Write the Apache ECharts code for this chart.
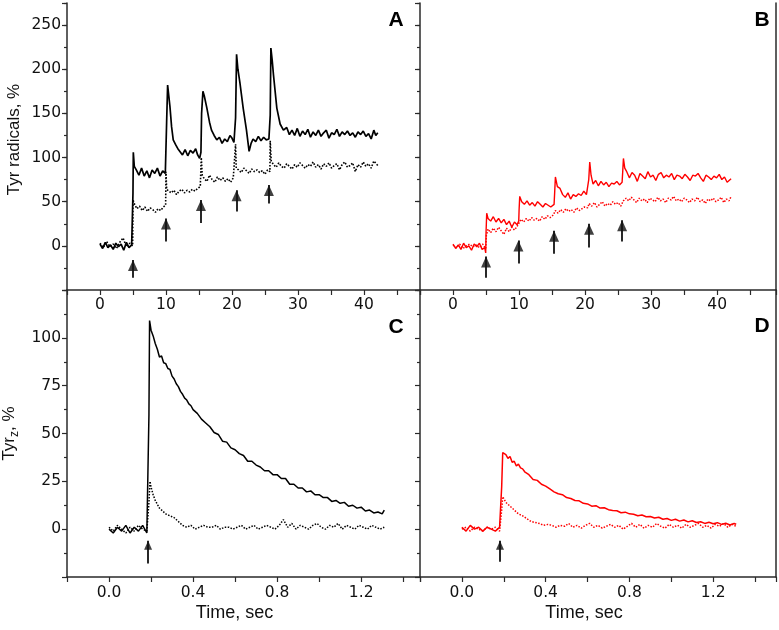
<!DOCTYPE html>
<html><head><meta charset="utf-8">
<script src="https://cdn.jsdelivr.net/npm/echarts@6/dist/echarts.min.js"></script>
<style>html,body{margin:0;padding:0;background:#fff}#c{width:779px;height:630px}</style>
</head><body><div id="c"></div>
<script>
// ---- tick labels ----
const xTicksTop = [0, 10, 20, 30, 40];
const yTicksTop = [0, 50, 100, 150, 200, 250];
const xTicksBottom = [0, 0.4, 0.8, 1.2];
const yTicksBottom = [0, 25, 50, 75, 100];
const panelLetters = ['A', 'B', 'C', 'D'];

// ---- Panel A (black, multi-flash, time in s) ----
const panelA_solid = [[0,2],[0.4,-3],[0.8,4],[1.2,-2],[1.6,1],[2,-4],[2.4,3],[2.8,-1],[3.2,2],[3.6,-5],[4,4],[4.4,-2],[4.8,1],[4.95,-1],
[5.0,60],[5.05,106],[5.2,90],[5.5,86],[5.9,80],[6.3,88],[6.7,79],[7.1,85],[7.5,77],[7.9,86],[8.3,82],[8.7,88],[9.1,79],[9.5,85],[9.9,82],
[10.0,84],[10.1,140],[10.25,182],[10.6,158],[10.85,135],[11.1,120],[11.5,114],[11.8,110],[12.1,108],[12.5,103],[12.9,109],[13.3,102],[13.7,108],[14.1,105],[14.5,110],[14.8,103],[15.1,99],[15.3,106],
[15.4,150],[15.6,175],[15.8,170],[16.2,156],[16.6,140],[16.9,131],[17.3,125],[17.7,120],[18.1,123],[18.5,116],[18.9,121],[19.3,118],[19.7,125],[20.0,122],[20.3,117],[20.5,116],
[20.55,145],[20.7,217],[20.9,200],[21.2,185],[21.7,156],[22.2,131],[22.6,107],[22.9,116],[23.2,121],[23.6,118],[24.0,124],[24.4,119],[24.8,123],[25.2,120],[25.6,121],[25.75,119],
[25.8,148],[25.9,224],[26.1,210],[26.3,193],[26.8,156],[27.3,138],[27.8,131],[28.3,134],[28.7,126],[29.1,131],[29.5,125],[29.9,133],[30.3,124],[30.7,130],[31.1,126],[31.5,132],[31.9,123],[32.3,129],[32.7,125],[33.1,131],[33.5,124],[33.9,128],[34.3,131],[34.7,122],[35.1,128],[35.5,126],[35.9,132],[36.3,124],[36.7,129],[37.1,126],[37.5,130],[37.9,125],[38.3,128],[38.7,123],[39.1,129],[39.5,126],[39.9,130],[40.3,124],[40.7,127],[41.1,121],[41.5,131],[41.8,125],[42.1,128]];
const panelA_dotted = [[0,3],[0.5,-2],[1,5],[1.5,-1],[2,2],[2.5,-3],[3,4],[3.5,9],[4,-1],[4.5,3],[4.95,0],
[5.0,52],[5.25,47],[5.6,42],[6,45],[6.4,40],[6.8,44],[7.2,39],[7.6,43],[8,41],[8.4,38],[8.8,42],[9.2,40],[9.6,44],[9.95,46],
[10.0,84],[10.1,64],[10.4,66],[10.8,60],[11.2,63],[11.6,58],[12,62],[12.4,64],[12.8,60],[13.2,63],[13.6,61],[14,64],[14.4,62],[14.8,65],[15.2,67],
[15.35,100],[15.5,80],[15.8,76],[16.2,73],[16.6,80],[17,75],[17.4,72],[17.8,78],[18.2,74],[18.6,77],[19,73],[19.4,76],[19.8,72],[20.2,77],[20.5,79],
[20.55,115],[20.65,88],[21,86],[21.4,83],[21.8,88],[22.2,85],[22.6,82],[23,87],[23.4,84],[23.8,86],[24.2,83],[24.6,85],[25,81],[25.4,86],[25.75,84],
[25.8,119],[25.95,96],[26.3,92],[26.7,89],[27.1,94],[27.5,90],[27.9,88],[28.3,93],[28.7,90],[29.1,87],[29.5,92],[29.9,89],[30.3,94],[30.7,91],[31.1,88],[31.5,92],[31.9,90],[32.3,95],[32.7,89],[33.1,92],[33.5,87],[33.9,93],[34.3,90],[34.7,94],[35.1,88],[35.5,91],[35.9,93],[36.3,86],[36.7,92],[37.1,95],[37.5,89],[37.9,91],[38.3,94],[38.7,84],[39.1,92],[39.5,89],[39.9,95],[40.3,90],[40.7,93],[41.1,88],[41.5,96],[42.1,91]];

// ---- Panel B (red, multi-flash) ----
const panelB_solid = [[0,2],[0.4,-3],[0.8,1],[1.2,-4],[1.6,3],[2,-2],[2.4,0],[2.8,-5],[3.2,2],[3.6,-1],[4,3],[4.4,-4],[4.8,-2],[4.95,-8],
[5.0,15],[5.1,37],[5.3,31],[5.7,28],[6.1,33],[6.5,27],[6.9,31],[7.3,26],[7.7,30],[8.1,24],[8.5,28],[8.9,21],[9.3,27],[9.7,24],[9.95,28],
[10.0,40],[10.1,56],[10.4,50],[10.8,47],[11.2,51],[11.6,46],[12,49],[12.4,45],[12.8,50],[13.2,47],[13.6,44],[14,48],[14.4,46],[14.8,44],[15.3,47],
[15.4,62],[15.5,78],[15.8,67],[16.2,65],[16.6,58],[17,55],[17.4,60],[17.8,53],[18.2,58],[18.6,56],[19,59],[19.4,57],[19.8,62],[20.2,58],[20.5,60],
[20.55,75],[20.7,95],[20.9,80],[21.2,70],[21.6,74],[22,68],[22.4,73],[22.8,69],[23.2,72],[23.6,67],[24,71],[24.4,70],[24.8,73],[25.2,69],[25.6,72],
[25.7,85],[25.8,99],[26,88],[26.3,84],[26.7,77],[27.1,83],[27.5,80],[27.9,73],[28.3,82],[28.7,79],[29.1,76],[29.5,84],[29.9,78],[30.3,80],[30.7,74],[31.1,81],[31.5,83],[31.9,77],[32.3,80],[32.7,78],[33.1,82],[33.5,75],[33.9,80],[34.3,79],[34.7,76],[35.1,81],[35.5,78],[35.9,74],[36.3,80],[36.7,79],[37.1,82],[37.5,77],[37.9,73],[38.3,80],[38.7,78],[39.1,75],[39.5,79],[39.9,77],[40.3,81],[40.7,75],[41.1,78],[41.5,72],[42.1,76]];
const panelB_dotted = [[0,1],[0.5,-2],[1,2],[1.5,-3],[2,0],[2.5,2],[3,-1],[3.5,1],[4,-2],[4.5,2],[4.95,-3],
[5.05,12],[5.3,19],[5.7,15],[6.1,20],[6.5,16],[6.9,21],[7.3,17],[7.7,13],[8.1,20],[8.5,16],[8.9,21],[9.3,18],[9.7,22],[10,23],
[10.3,30],[10.7,27],[11.1,31],[11.5,28],[11.9,32],[12.3,29],[12.7,31],[13.1,28],[13.5,33],[13.9,30],[14.3,34],[14.7,32],[15.2,35],
[15.5,40],[15.9,37],[16.3,41],[16.7,38],[17.1,42],[17.5,39],[17.9,41],[18.3,38],[18.7,43],[19.1,40],[19.5,42],[19.9,44],[20.4,43],
[20.6,48],[21,45],[21.4,49],[21.8,44],[22.2,47],[22.6,50],[23,45],[23.4,48],[23.8,46],[24.2,50],[24.6,47],[25,49],[25.4,45],[25.8,51],
[26.2,54],[26.6,51],[27,55],[27.4,52],[27.8,49],[28.2,54],[28.6,51],[29,53],[29.4,49],[29.8,54],[30.2,52],[30.6,50],[31,55],[31.4,51],[31.8,53],[32.2,49],[32.6,54],[33,52],[33.4,56],[33.8,51],[34.2,53],[34.6,50],[35,54],[35.4,52],[35.8,49],[36.2,53],[36.6,51],[37,55],[37.4,50],[37.8,52],[38.2,48],[38.6,53],[39,51],[39.4,54],[39.8,50],[40.2,52],[40.6,55],[41,49],[41.4,53],[41.8,51],[42.1,56]];

// ---- Panel C (black, single flash, time in s) ----
const panelC_solid = [[0,0],[0.02,-2],[0.04,1],[0.06,-1],[0.08,2],[0.1,-2],[0.12,1],[0.14,-1],[0.16,2],[0.18,-2],[0.188,-1],
[0.19,60],[0.193,109],[0.2,104],[0.21,101],[0.22,97],[0.23,94],[0.24,90],[0.25,90.5],[0.26,87],[0.27,86.5],[0.28,84],[0.29,83.5],[0.3,80],[0.31,78.5],[0.32,76],[0.33,74.5],[0.34,72],[0.35,70.5],[0.36,68.5],[0.37,67.5],[0.38,65.5],[0.39,64.5],[0.4,62.5],
[0.42,60.5],[0.44,57.5],[0.46,55.5],[0.48,53.5],[0.5,50.5],[0.52,49.5],[0.54,46],[0.56,45.5],[0.58,42.5],[0.6,41.5],[0.62,39.5],[0.64,38.5],[0.66,35.5],[0.68,35.5],[0.7,33.5],[0.72,32.5],[0.74,30.5],[0.76,30.5],[0.78,28.5],[0.8,28.5],[0.82,26.5],[0.84,26.5],[0.86,23.5],[0.88,23.5],[0.9,21.5],[0.92,21.5],[0.94,19.5],[0.96,20],[0.98,18],[1.0,18],[1.02,16.5],[1.04,16.5],[1.06,14.5],[1.08,15],[1.1,13.5],[1.12,14],[1.14,12],[1.16,12.5],[1.18,11],[1.2,11.5],[1.22,9.5],[1.24,10],[1.26,8.5],[1.28,9],[1.3,8],[1.31,10]];
const panelC_dotted = [[0,1],[0.02,-1],[0.04,2],[0.06,0],[0.08,-2],[0.1,1],[0.12,-1],[0.14,2],[0.16,0],[0.18,-1],[0.188,0],
[0.19,14],[0.195,25],[0.2,22],[0.21,18],[0.22,15],[0.23,13],[0.24,11],[0.25,10],[0.27,8],[0.29,7],[0.31,6],[0.33,4],[0.35,2],[0.37,1],[0.39,2],[0.41,0],[0.43,1],[0.45,2],[0.47,1],[0.49,1],[0.51,2],[0.53,0],[0.55,1],[0.57,1],[0.59,0],[0.61,1],[0.63,2],[0.65,0],[0.67,1],[0.69,2],[0.71,0],[0.73,1],[0.75,2],[0.77,1],[0.79,0],[0.81,2],[0.83,5],[0.85,1],[0.87,3],[0.89,0],[0.91,2],[0.93,1],[0.95,0],[0.97,2],[0.99,3],[1.01,1],[1.03,0],[1.05,2],[1.07,1],[1.09,3],[1.11,0],[1.13,2],[1.15,1],[1.17,0],[1.19,2],[1.21,1],[1.23,0],[1.25,2],[1.27,1],[1.29,0],[1.31,1]];

// ---- Panel D (red, single flash) ----
const panelD_solid = [[0,1],[0.02,-1],[0.04,2],[0.06,0],[0.08,1],[0.1,-1],[0.12,1],[0.14,0],[0.16,-1],[0.18,1],[0.188,0],
[0.19,22],[0.195,40],[0.21,39],[0.22,37],[0.23,38],[0.24,35],[0.25,35.5],[0.26,33],[0.27,34],[0.28,32],[0.29,31.5],[0.3,30],[0.32,28.5],[0.34,26],[0.36,25.5],[0.38,23.5],[0.4,22.5],[0.42,21],[0.44,19.5],[0.46,18.5],[0.48,18],[0.5,16.5],[0.52,16],[0.54,15],[0.56,14.8],[0.58,13.5],[0.6,13.2],[0.62,12],[0.64,12.3],[0.66,11],[0.68,11.2],[0.7,10.2],[0.72,9.8],[0.74,9.6],[0.76,8.6],[0.78,8.9],[0.8,8],[0.82,7.8],[0.84,7],[0.86,7.4],[0.88,6.5],[0.9,6.6],[0.92,5.8],[0.94,6.2],[0.96,5.2],[0.98,5.6],[1.0,4.6],[1.02,5.2],[1.04,4.2],[1.06,4.8],[1.08,3.8],[1.1,4.4],[1.12,3.5],[1.14,3.9],[1.16,3],[1.18,3.6],[1.2,2.8],[1.22,3.4],[1.24,2.5],[1.26,3.1],[1.28,2.2],[1.3,3],[1.31,2.6]];
const panelD_dotted = [[0,0],[0.02,1],[0.04,-1],[0.06,1],[0.08,0],[0.1,-1],[0.12,1],[0.14,0],[0.16,1],[0.18,-1],[0.188,0],
[0.19,10],[0.195,17],[0.2,16],[0.21,14],[0.22,13],[0.23,12],[0.25,10],[0.27,8],[0.29,7],[0.31,5.5],[0.33,4],[0.35,3.5],[0.37,3],[0.39,2],[0.41,2.5],[0.43,2],[0.45,1],[0.47,2],[0.49,1.5],[0.51,3],[0.53,1],[0.55,2],[0.57,0.5],[0.59,2],[0.61,3],[0.63,1],[0.65,2],[0.67,0.5],[0.69,1.5],[0.71,2.5],[0.73,1],[0.75,2],[0.77,0],[0.79,1.5],[0.81,3],[0.83,1],[0.85,2.5],[0.87,0.5],[0.89,2],[0.91,1],[0.93,3],[0.95,1.5],[0.97,0.5],[0.99,2.5],[1.01,1],[1.03,2],[1.05,0.5],[1.07,2.5],[1.09,1],[1.11,2],[1.13,3],[1.15,1],[1.17,2],[1.19,0.5],[1.21,2.5],[1.23,1.5],[1.25,3],[1.27,1],[1.29,2.5],[1.31,1.5]];

// ---- flash arrows: [time, tip value, tail value] ----
const arrowsA = [[5,-16,-36],[10,31,5],[15.3,52,26],[20.7,63,39],[25.6,69,48]];
const arrowsB = [[5,-12,-36],[9.9,6,-20],[15.3,17,-9],[20.6,25,-2],[25.6,29,5]];
const arrowsC = [[0.186,-6,-18]];
const arrowsD = [[0.182,-6,-17]];

// ---------------- chart ----------------
const FONT = '"Liberation Sans", Arial, Helvetica, sans-serif';
const TICKFONT = '"DejaVu Sans", "Liberation Sans", Arial, sans-serif';
const TICKSIZE = 15.5;
const AX = '#2a2a2a';
const BLACK = '#000000';
const RED = '#ff0000';

const lineAx = {show: true, onZero: false, lineStyle: {color: AX, width: 1.5}};
const tickAx = (len) => ({show: true, inside: false, length: len, lineStyle: {color: AX, width: 1.2}});

function xAxisTop(gi, max, showLabels) {
  return {type: 'value', gridIndex: gi, min: -5, max: max, interval: 5, position: 'bottom',
    axisLine: lineAx, axisTick: tickAx(5), splitLine: {show: false},
    axisLabel: {show: showLabels, margin: 7, fontSize: TICKSIZE, color: '#111', fontFamily: TICKFONT,
      formatter: v => xTicksTop.includes(Math.round(v * 1000) / 1000) ? String(Math.round(v)) : ''}};
}
function xAxisBottom(gi, max, pad) {
  return {type: 'value', gridIndex: gi, min: -0.2, max: max, interval: 0.2, position: 'bottom',
    axisLine: lineAx, axisTick: tickAx(5), splitLine: {show: false},
    axisLabel: {show: true, margin: 8, fontSize: TICKSIZE, color: '#111', fontFamily: TICKFONT,
      formatter: v => { const r = Math.round(v * 10) / 10; return xTicksBottom.includes(r) ? r.toFixed(1) : ''; }},
    name: 'Time, sec', nameLocation: 'middle', nameGap: 27,
    nameTextStyle: {fontSize: 18, color: '#111', fontFamily: FONT, padding: [0, pad, 0, 0]}};
}
function yAxisTop(gi, showLabels, extra) {
  return Object.assign({type: 'value', gridIndex: gi, min: -50, max: 275, interval: 50, position: 'left',
    axisLine: lineAx, axisTick: tickAx(5), splitLine: {show: false},
    axisLabel: {show: showLabels, margin: 6, fontSize: TICKSIZE, color: '#111', fontFamily: TICKFONT,
      formatter: v => yTicksTop.includes(v) ? String(v) : ''}}, extra || {});
}
function yAxisTopMinor(gi) {
  return {type: 'value', gridIndex: gi, min: -50, max: 275, interval: 25, position: 'left',
    axisLine: {show: false, onZero: false}, axisTick: tickAx(3), axisLabel: {show: false}, splitLine: {show: false}};
}
function yAxisBottom(gi, showLabels, extra) {
  return Object.assign({type: 'value', gridIndex: gi, min: -25, max: 125, interval: 25, position: 'left',
    axisLine: lineAx, axisTick: tickAx(5), splitLine: {show: false},
    minorTick: {show: true, splitNumber: 2, length: 3, lineStyle: {color: AX, width: 1.2}},
    axisLabel: {show: showLabels, margin: 6, fontSize: TICKSIZE, color: '#111', fontFamily: TICKFONT,
      formatter: v => yTicksBottom.includes(v) ? String(v) : ''}}, extra || {});
}
function rightBorder(gi, min, max) {
  return {type: 'value', gridIndex: gi, min: min, max: max, position: 'right',
    axisLine: lineAx, axisTick: {show: false}, axisLabel: {show: false}, splitLine: {show: false}};
}

function trace(xi, yi, data, color, dotted, w) {
  return {type: 'line', xAxisIndex: xi, yAxisIndex: yi, data: data, showSymbol: false, symbol: 'none',
    silent: true, animation: false, z: dotted ? 2 : 3,
    lineStyle: {color: color, width: w, type: dotted ? 'dotted' : 'solid'}};
}
function arrowShafts(xi, yi, arr) {
  return {type: 'lines', coordinateSystem: 'cartesian2d', xAxisIndex: xi, yAxisIndex: yi, silent: true, animation: false, z: 5,
    data: arr.map(a => ({coords: [[a[0], a[2]], [a[0], a[1]]]})),
    lineStyle: {color: '#111', width: 1.8, opacity: 1}};
}
function arrowHeads(xi, yi, arr, size) {
  return {type: 'scatter', xAxisIndex: xi, yAxisIndex: yi, silent: true, animation: false, z: 6,
    data: arr.map(a => [a[0], a[1]]), symbol: 'triangle', symbolSize: size, symbolOffset: [0, '50%'],
    itemStyle: {color: '#111'}};
}

const letterPos = [[396, 20], [762, 20], [396, 327], [762, 326]];

const option = {
  animation: false,
  backgroundColor: '#ffffff',
  grid: [
    {left: 67, top: 3, width: 353, height: 287, outerBoundsMode: 'none'},
    {left: 420, top: 3, width: 356, height: 287, outerBoundsMode: 'none'},
    {left: 67, top: 290, width: 353, height: 287, outerBoundsMode: 'none'},
    {left: 420, top: 290, width: 356, height: 287, outerBoundsMode: 'none'}
  ],
  xAxis: [
    xAxisTop(0, 48.5, true),
    xAxisTop(1, 48.9, true),
    xAxisBottom(2, 1.48, 18),
    xAxisBottom(3, 1.5, 28)
  ],
  yAxis: [
    yAxisTop(0, true, {name: 'Tyr radicals, %', nameLocation: 'middle', nameGap: 44,
      nameTextStyle: {fontSize: 17, color: '#111', fontFamily: FONT, padding: [0, 0, 0, 14]}}),
    yAxisTop(1, false),
    yAxisBottom(2, true, {name: '{t|Tyr}{s|z}{t|, %}', nameLocation: 'middle', nameGap: 46,
      nameTextStyle: {fontSize: 17, color: '#111', fontFamily: FONT,
        rich: {t: {fontSize: 17, lineHeight: 24, verticalAlign: 'middle', color: '#111', fontFamily: FONT},
               s: {fontSize: 12, lineHeight: 12, verticalAlign: 'bottom', color: '#111', fontFamily: FONT}}}}),
    yAxisBottom(3, false),
    yAxisTopMinor(0),
    yAxisTopMinor(1),
    rightBorder(1, -50, 275),
    rightBorder(3, -25, 125)
  ],
  graphic: panelLetters.map((L, i) => ({type: 'text', x: letterPos[i][0], y: letterPos[i][1], silent: true,
    style: {text: L, font: 'bold 21px ' + FONT, fill: '#000', align: 'center', verticalAlign: 'middle',
            textAlign: 'center', textVerticalAlign: 'middle'}})),
  series: [
    trace(0, 0, panelA_dotted, BLACK, true, 1.6),
    trace(0, 0, panelA_solid, BLACK, false, 1.7),
    trace(1, 1, panelB_dotted, RED, true, 1.5),
    trace(1, 1, panelB_solid, RED, false, 1.4),
    trace(2, 2, panelC_dotted, BLACK, true, 1.5),
    trace(2, 2, panelC_solid, BLACK, false, 1.5),
    trace(3, 3, panelD_dotted, RED, true, 1.5),
    trace(3, 3, panelD_solid, RED, false, 1.5),
    arrowShafts(0, 0, arrowsA), arrowHeads(0, 0, arrowsA, [10, 11]),
    arrowShafts(1, 1, arrowsB), arrowHeads(1, 1, arrowsB, [10, 11]),
    arrowShafts(2, 2, arrowsC), arrowHeads(2, 2, arrowsC, [8, 9]),
    arrowShafts(3, 3, arrowsD), arrowHeads(3, 3, arrowsD, [8, 9])
  ]
};
const chart = echarts.init(document.getElementById('c'), null, {renderer: 'canvas', devicePixelRatio: 1});
chart.setOption(option);
</script>
</body></html>
